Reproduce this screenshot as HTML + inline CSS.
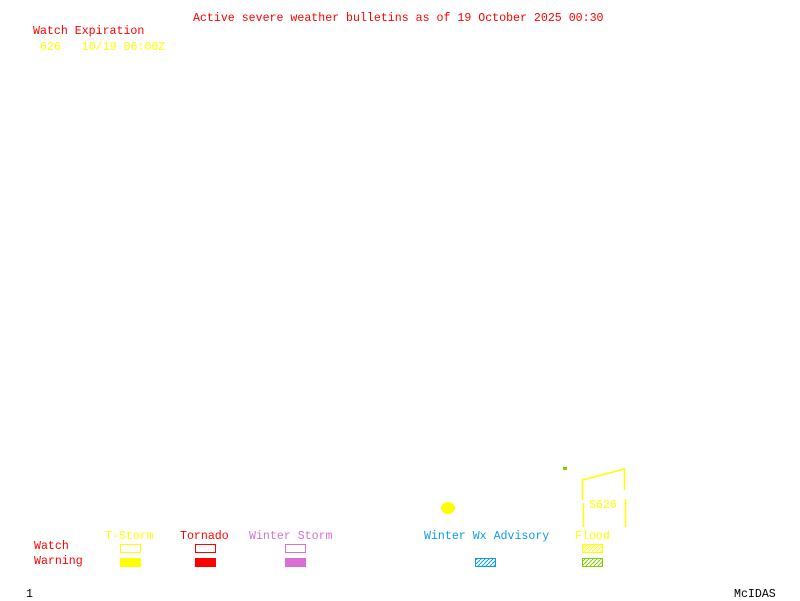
<!DOCTYPE html>
<html><head><meta charset="utf-8"><style>
body{margin:0;width:800px;height:600px;background:#fff;position:relative;overflow:hidden;font-family:"Liberation Mono",monospace;font-size:11.6px;}
.t{position:absolute;white-space:pre;line-height:12px;}
.r{color:#f00}.y{color:#ff0}.p{color:#da70d6}.b{color:#0a9cf0}.k{color:#000}
.bx{position:absolute;width:19px;height:7px;}
</style></head><body>
<div class="t r" style="left:193px;top:13px">Active severe weather bulletins as of 19 October 2025 00:30</div>
<div class="t r" style="left:33px;top:26px">Watch Expiration</div>
<div class="t y" style="left:40px;top:42px">626   10/19 06:00Z</div>

<div class="t y" style="left:105px;top:531px">T-Storm</div>
<div class="t r" style="left:180px;top:531px">Tornado</div>
<div class="t p" style="left:249px;top:531px">Winter Storm</div>
<div class="t b" style="left:424px;top:531px">Winter Wx Advisory</div>
<div class="t y" style="left:575px;top:531px">Flood</div>
<div class="t r" style="left:34px;top:541px">Watch</div>
<div class="t r" style="left:34px;top:556px">Warning</div>

<div class="bx" style="left:120px;top:544px;border:1px solid #ff0"></div>
<div class="bx" style="left:120px;top:558px;background:#ff0;height:9px;width:21px"></div>
<div class="bx" style="left:195px;top:544px;border:1px solid #f00"></div>
<div class="bx" style="left:195px;top:558px;background:#f00;height:9px;width:21px"></div>
<div class="bx" style="left:285px;top:544px;border:1px solid #da70d6"></div>
<div class="bx" style="left:285px;top:558px;background:#da70d6;height:9px;width:21px"></div>

<svg width="800" height="600" style="position:absolute;left:0;top:0">
<defs>
<pattern id="hb" width="4" height="4" patternUnits="userSpaceOnUse"><path d="M0 4L4 0" stroke="#0a9cf0" stroke-width="1"/></pattern>
<pattern id="hy" width="4" height="4" patternUnits="userSpaceOnUse"><path d="M0 4L4 0" stroke="#ff0" stroke-width="1"/></pattern>
<pattern id="hg" width="4" height="4" patternUnits="userSpaceOnUse"><path d="M0 4L4 0" stroke="#7fd000" stroke-width="1"/></pattern>
</defs>
<rect x="475.5" y="558.5" width="20" height="8" fill="url(#hb)" stroke="#0a9cf0"/>
<rect x="582.5" y="544.5" width="20" height="8" fill="url(#hy)" stroke="#ff0"/>
<rect x="582.5" y="558.5" width="20" height="8" fill="url(#hg)" stroke="#7fd000"/>
<polyline points="582.5,500 582.5,480 624.5,469 624.5,490" fill="none" stroke="#ff0" stroke-width="1.5"/>
<line x1="583.5" y1="503" x2="583.5" y2="527" stroke="#ff0" stroke-width="1.5"/>
<line x1="625.5" y1="499" x2="625.5" y2="527" stroke="#ff0" stroke-width="1.5"/>
<ellipse cx="448" cy="508" rx="7" ry="6" fill="#ff0"/>
<rect x="563" y="467" width="4" height="3" fill="#7fd000"/>
</svg>
<div class="t y" style="left:589px;top:500px">S626</div>
<div class="t k" style="left:26px;top:589px">1</div>
<div class="t k" style="left:734px;top:589px">McIDAS</div>
</body></html>
